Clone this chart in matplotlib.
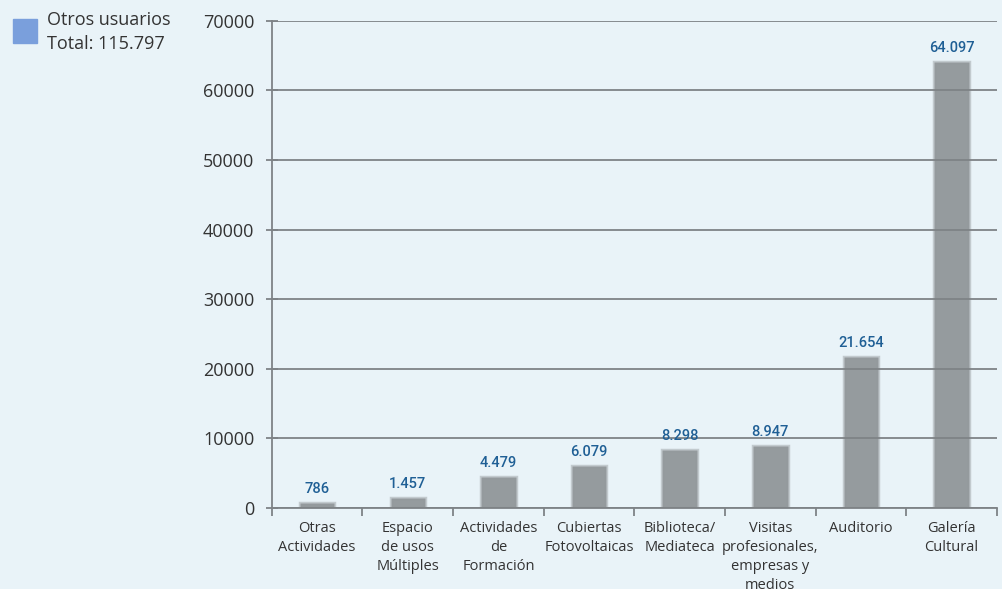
import numpy as np
import matplotlib.pyplot as plt

categorias = ["Otras\nActividades", "Espacio\nde usos\nMúltiples", "Actividades\nde\nFormación",
              "Cubiertas\nFotovoltaicas", "Biblioteca/\nMediateca",
              "Visitas\nprofesionales,\nempresas y\nmedios", "Auditorio", "Galería\nCultural"]
valores = [786, 1457, 4479, 6079, 8298, 8947, 21654, 64097]
etiquetas = ["786", "1.457", "4.479", "6.079", "8.298", "8.947", "21.654", "64.097"]
yticks = [0, 10000, 20000, 30000, 40000, 50000, 60000, 70000]

fondo = "#e9f3f8"
gris_barra = "#959b9e"
gris_linea = "#7e8386"
azul = "#1f5f95"

plt.rcParams['font.family'] = ['Open Sans', 'DejaVu Sans']

fig = plt.figure(figsize=(10.03, 5.89), dpi=100, facecolor=fondo)
ax = fig.add_axes([0.271, 0.1375, 0.723, 0.827])
ax.set_facecolor(fondo)

x = np.arange(len(valores))
# soft border to mimic the blurred bars
ax.bar(x, valores, width=0.38, color=gris_barra, edgecolor=(0.58, 0.6, 0.61, 0.45),
       linewidth=2.5, zorder=2)

for xi, v, t in zip(x, valores, etiquetas):
    ax.annotate(t, (xi, v), xytext=(0, 5), textcoords="offset points",
                ha="center", va="bottom", color=azul, fontsize=10.5,
                fontweight="medium", family=['Roboto', 'DejaVu Sans'])

ax.set_xlim(-0.5, len(valores) - 0.5)
ax.set_ylim(0, 70000)
ax.set_yticks(yticks)
ax.set_yticklabels([str(v) for v in yticks], fontsize=13, color="#333333")
ax.yaxis.grid(True, color=gris_linea, lw=1.3, zorder=3)
ax.set_axisbelow(False)

ax.set_xticks(x)
ax.set_xticklabels(categorias, fontsize=10.5, color="#333333", linespacing=1.38)
ax.tick_params(axis="x", length=0, pad=9)
ax.set_xticks(np.arange(-0.5, len(valores)), minor=True)
ax.tick_params(axis="x", which="minor", length=6, color=gris_linea, width=1.3, direction="out")
ax.tick_params(axis="y", length=9, color=gris_linea, width=1.3, direction="inout", pad=8)

for s in ["top", "right"]:
    ax.spines[s].set_visible(False)
for s in ["left", "bottom"]:
    ax.spines[s].set_color(gris_linea)
    ax.spines[s].set_linewidth(1.3)
    ax.spines[s].set_zorder(4)

# legend-like box on the left
fig.patches.append(plt.Rectangle((13 / 1003, 1 - 43 / 589), 24 / 1003, 24 / 589,
                                 transform=fig.transFigure, color="#7a9fdc"))
fig.text(47 / 1003, 1 - 11 / 589, "Otros usuarios\nTotal: 115.797", fontsize=13,
         color="#333333", va="top", ha="left", linespacing=1.45)

fig.savefig("out.png", dpi=100, facecolor=fondo)
